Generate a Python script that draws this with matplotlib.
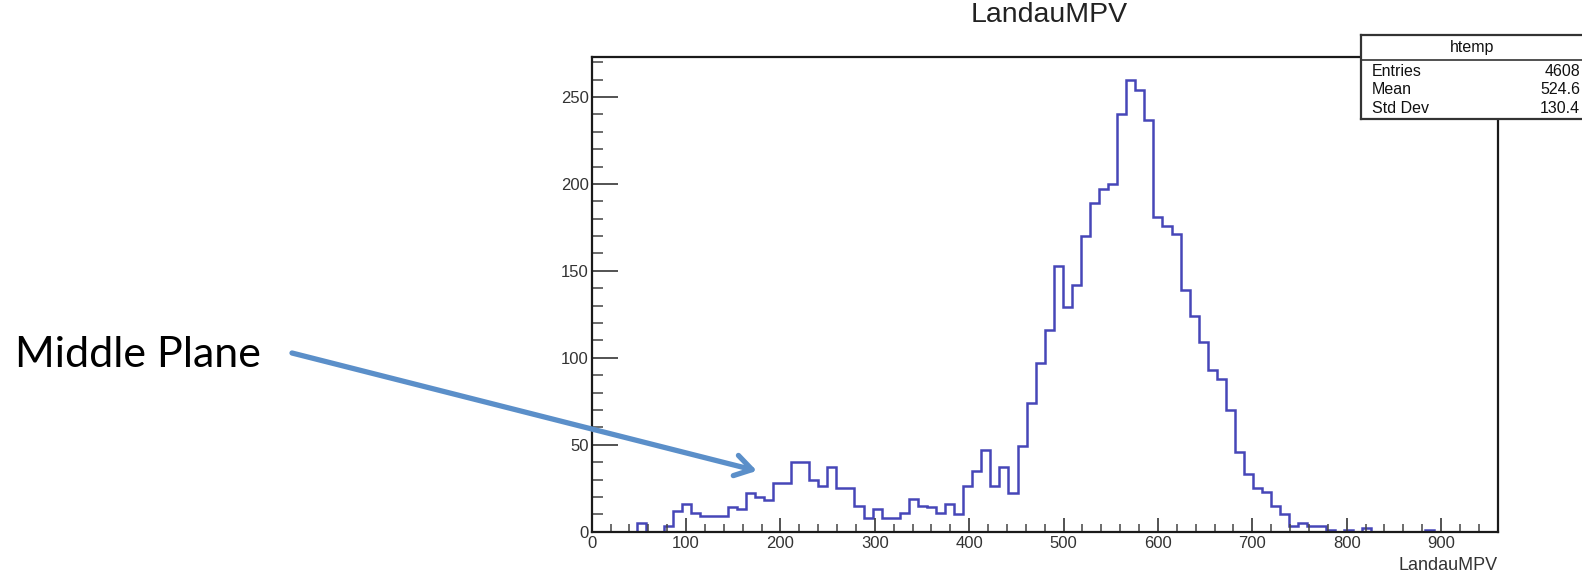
import numpy as np
import matplotlib.pyplot as plt
from matplotlib.ticker import MultipleLocator

plt.rcParams['font.family'] = ['Liberation Sans', 'DejaVu Sans']

# LandauMPV histogram: 100 bins of width 9.6 between 0 and 960
bin_lo, bin_hi, n_bins = 0.0, 960.0, 100
counts = [
    0, 0, 0, 0, 0, 5, 0, 0, 3, 12,
    16, 11, 9, 9, 9, 14, 13, 22, 20, 18,
    28, 28, 40, 40, 30, 26, 37, 25, 25, 15,
    8, 13, 8, 8, 11, 19, 15, 14, 11, 16,
    10, 26, 35, 47, 26, 37, 22, 49, 74, 97,
    116, 153, 129, 142, 170, 189, 197, 200, 240, 260,
    254, 237, 181, 176, 171, 139, 124, 109, 93, 88,
    70, 46, 33, 25, 23, 15, 10, 3, 5, 3,
    3, 1, 0, 1, 0, 2, 0, 0, 0, 0,
    0, 0, 1, 0, 0, 0, 0, 0, 0, 0,
]
stats_labels = ['Entries', 'Mean', 'Std Dev']
stats_values = ['4608', '524.6', '130.4']

W, H = 1582, 577
fig = plt.figure(figsize=(W / 100, H / 100), dpi=100)

# plot frame in pixel terms
x0, x1, y_bot, y_top = 591.7, 1497.7, 531.7, 57.0
ax = fig.add_axes([x0 / W, 1 - y_bot / H, (x1 - x0) / W, (y_bot - y_top) / H])

edges = np.linspace(bin_lo, bin_hi, n_bins + 1)
ax.stairs(counts, edges, color='#4646b8', lw=1.8, baseline=0)

ax.set_xlim(bin_lo, bin_hi)
ax.set_ylim(0, 1.05 * max(counts))

ax.xaxis.set_major_locator(MultipleLocator(100))
ax.xaxis.set_minor_locator(MultipleLocator(20))
ax.yaxis.set_major_locator(MultipleLocator(50))
ax.yaxis.set_minor_locator(MultipleLocator(10))
ax.tick_params(which='both', direction='in', top=False, right=False,
               color='#444444', labelcolor='#333333', labelsize=12)
ax.tick_params(axis='y', which='major', length=19, width=1.3, pad=2)
ax.tick_params(axis='y', which='minor', length=8, width=1.1)
ax.tick_params(axis='x', which='major', length=10, width=1.3, pad=3)
ax.tick_params(axis='x', which='minor', length=5.5, width=1.1)
for sp in ax.spines.values():
    sp.set_linewidth(1.6)
    sp.set_color('#1a1a1a')

fig.text(1049 / W, 1 - 15 / H, 'LandauMPV', ha='center', va='center',
         fontsize=20.5, color='#222222')
fig.text(x1 / W, 1 - 566 / H, 'LandauMPV', ha='right', va='center',
         fontsize=13, color='#333333')

# statistics box in the top right corner (right edge runs off the canvas)
bx0, bx1, by_top, by_bot, by_sep = 1361, 1588, 35, 119, 60
sbox = fig.add_axes([bx0 / W, 1 - by_bot / H, (bx1 - bx0) / W, (by_bot - by_top) / H])
sbox.set_xlim(0, 1)
sbox.set_ylim(0, 1)
sbox.set_xticks([])
sbox.set_yticks([])
sbox.set_facecolor('white')
for sp in sbox.spines.values():
    sp.set_linewidth(1.6)
    sp.set_color('#333333')
sep = (by_bot - by_sep) / (by_bot - by_top)
sbox.axhline(sep, color='#333333', lw=1.2)
sbox.text(111 / (bx1 - bx0), (1 + sep) / 2, 'htemp', ha='center', va='center',
          fontsize=11.5, color='#111111')
row_y = [71.5, 90, 108.5]
for lab, val, ry in zip(stats_labels, stats_values, row_y):
    yy = (by_bot - ry) / (by_bot - by_top)
    sbox.text(11 / (bx1 - bx0), yy, lab, ha='left', va='center',
              fontsize=11.5, color='#111111')
    sbox.text(219 / (bx1 - bx0), yy, val, ha='right', va='center',
              fontsize=11.5, color='#111111')

# callout pointing at the low-MPV bump
fig.text(15 / W, 1 - 355 / H, 'Middle Plane', ha='left', va='center',
         fontsize=31, family=['Lato', 'DejaVu Sans'], color='black')
ax.annotate('', xy=(175, 35), xycoords='data',
            xytext=(292 / W, 1 - 353 / H), textcoords='figure fraction',
            arrowprops=dict(arrowstyle='->,head_length=1.2,head_width=0.75',
                            color='#5b8fc9', lw=3.8, shrinkA=0, shrinkB=0),
            annotation_clip=False)

fig.savefig('out.png', dpi=100)
